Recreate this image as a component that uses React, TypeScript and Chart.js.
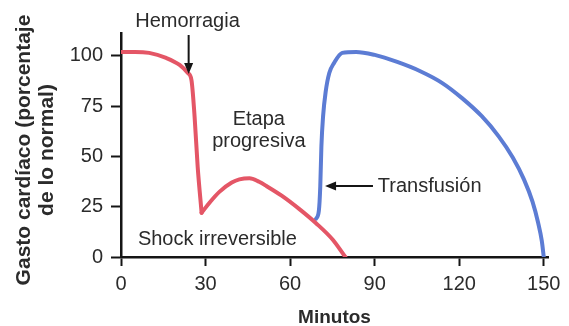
import { useEffect, useRef } from 'react';
import { Chart, registerables } from 'chart.js';

Chart.register(...registerables);

// ---- Data ----
const xTicks = [0, 30, 60, 90, 120, 150];
const yTicks = [0, 25, 50, 75, 100];

// Red curve, hemorrhage phase (normal -> sharp fall)
const redFallX = [0, 5, 10, 16, 20.8, 23.7, 25, 26.1, 27.2, 28.6];
const redFallY = [102, 102, 101.5, 99, 95.5, 91.5, 88, 70, 45, 22];
// Red curve, progressive stage -> irreversible shock
const redShockX = [28.6, 31.4, 35, 39.3, 42, 45.6, 49, 51.6, 57, 63.3, 69.2, 75, 79.6];
const redShockY = [22, 27, 32.5, 37, 38.6, 39.2, 37.4, 35.3, 30.5, 23.8, 16.8, 8.8, 0];
// Blue curve, transfusion
const blueX = [69.2, 70.2, 70.7, 71.1, 71.7, 72.6, 73.9, 75.6, 78.5, 83.4, 90, 98, 106, 114, 121, 128, 134, 139, 143, 146, 148, 149.3, 150];
const blueY = [19, 23, 35, 55, 70, 82, 91.5, 96.5, 101.5, 102, 100.5, 97, 92.5, 86.5, 79, 70, 60, 49.5, 38.5, 27.5, 17, 8, 0];

const yTitle = ['Gasto cardíaco (porcentaje', 'de lo normal)'];
const xTitle = 'Minutos';

const FONT = '"Liberation Sans", Arial, Helvetica, sans-serif';
const TEXT = '#2b2b2b';
const AXIS = '#151515';
const RED = 'rgb(228, 86, 102)';
const BLUE = 'rgb(92, 124, 212)';

const toPts = (xs: number[], ys: number[]) => xs.map((x, i) => ({ x, y: ys[i] }));

function arrowHead(ctx: CanvasRenderingContext2D, tx: number, ty: number, dx: number, dy: number, len: number, half: number) {
  const bx = tx - dx * len;
  const by = ty - dy * len;
  const px = -dy;
  const py = dx;
  ctx.beginPath();
  ctx.moveTo(tx, ty);
  ctx.lineTo(bx + px * half, by + py * half);
  ctx.lineTo(bx - px * half, by - py * half);
  ctx.closePath();
  ctx.fill();
}

const annotations = {
  id: 'annotations',
  afterDatasetsDraw(chart: any) {
    const { ctx, scales } = chart;
    const x = scales.x;
    const y = scales.y;
    const area = chart.chartArea;
    ctx.save();
    ctx.fillStyle = TEXT;
    ctx.strokeStyle = AXIS;
    ctx.font = `20px ${FONT}`;
    ctx.textBaseline = 'alphabetic';

    // Hemorragia
    ctx.textAlign = 'center';
    ctx.fillText('Hemorragia', x.getPixelForValue(23.6), y.getPixelForValue(114.5));
    const ax = x.getPixelForValue(24);
    const aTop = y.getPixelForValue(110.4);
    const aTip = y.getPixelForValue(91);
    ctx.lineWidth = 2;
    ctx.beginPath();
    ctx.moveTo(ax, aTop);
    ctx.lineTo(ax, aTip - 6);
    ctx.stroke();
    ctx.fillStyle = AXIS;
    arrowHead(ctx, ax, aTip, 0, 1, 11, 4.5);

    // Etapa progresiva
    ctx.fillStyle = TEXT;
    ctx.fillText('Etapa', x.getPixelForValue(48.9), y.getPixelForValue(65.7));
    ctx.fillText('progresiva', x.getPixelForValue(48.9), y.getPixelForValue(54.7));

    // Shock irreversible
    ctx.textAlign = 'left';
    ctx.fillText('Shock irreversible', x.getPixelForValue(6), y.getPixelForValue(6));

    // Transfusión
    ctx.fillText('Transfusión', x.getPixelForValue(91.1), y.getPixelForValue(32.3));
    const ty = y.getPixelForValue(35.3);
    const tStart = x.getPixelForValue(89.4);
    const tTip = x.getPixelForValue(72.4);
    ctx.beginPath();
    ctx.moveTo(tStart, ty);
    ctx.lineTo(tTip + 6, ty);
    ctx.stroke();
    ctx.fillStyle = AXIS;
    arrowHead(ctx, tTip, ty, -1, 0, 11, 4.5);

    // Axis titles
    ctx.fillStyle = TEXT;
    ctx.font = `bold 19px ${FONT}`;
    ctx.textAlign = 'center';
    ctx.fillText(xTitle, (area.left + area.right) / 2, 323);

    ctx.font = `bold 21px ${FONT}`;
    const cy = 150;
    ctx.save();
    ctx.translate(30, cy);
    ctx.rotate(-Math.PI / 2);
    ctx.fillText(yTitle[0], 0, 0);
    ctx.restore();
    ctx.save();
    ctx.translate(53, cy);
    ctx.rotate(-Math.PI / 2);
    ctx.fillText(yTitle[1], 0, 0);
    ctx.restore();

    ctx.restore();
  },
};

export default function App() {
  const ref = useRef<HTMLCanvasElement | null>(null);

  useEffect(() => {
    if (!ref.current) return;
    const lineStyle = {
      pointRadius: 0,
      borderWidth: 4,
      cubicInterpolationMode: 'monotone' as const,
      borderJoinStyle: 'round' as const,
      borderCapStyle: 'round' as const,
      fill: false,
    };
    const chart = new Chart(ref.current, {
      type: 'line',
      data: {
        datasets: [
          { ...lineStyle, label: 'Hemorragia', data: toPts(redFallX, redFallY), borderColor: RED },
          { ...lineStyle, label: 'Shock', data: toPts(redShockX, redShockY), borderColor: RED },
          { ...lineStyle, label: 'Transfusión', data: toPts(blueX, blueY), borderColor: BLUE },
        ],
      },
      options: {
        responsive: false,
        animation: false,
        devicePixelRatio: 1,
        layout: { padding: { top: 33, right: 21, left: 0, bottom: 0 } },
        plugins: { legend: { display: false }, tooltip: { enabled: false } },
        scales: {
          x: {
            type: 'linear',
            min: 0,
            max: 151.5,
            afterBuildTicks: (s: any) => {
              s.ticks = xTicks.map((v) => ({ value: v }));
            },
            afterFit: (s: any) => {
              s.height = 69;
            },
            grid: { drawOnChartArea: false, drawTicks: true, tickLength: 9, tickWidth: 2, tickColor: AXIS },
            border: { display: true, color: AXIS, width: 2.5 },
            ticks: { font: { size: 20, family: FONT }, color: TEXT, padding: 6, maxRotation: 0, autoSkip: false },
          },
          y: {
            type: 'linear',
            min: 0,
            max: 111.4,
            afterBuildTicks: (s: any) => {
              s.ticks = yTicks.map((v) => ({ value: v }));
            },
            afterFit: (s: any) => {
              s.width = 121;
            },
            grid: { drawOnChartArea: false, drawTicks: true, tickLength: 10, tickWidth: 2, tickColor: AXIS },
            border: { display: true, color: AXIS, width: 2.5 },
            ticks: { font: { size: 20, family: FONT }, color: TEXT, padding: 8, autoSkip: false },
          },
        },
      },
      plugins: [annotations],
    });
    return () => chart.destroy();
  }, []);

  return (
    <div style={{ position: 'absolute', left: 0, top: 0, width: 569, height: 326, background: '#fff' }}>
      <canvas ref={ref} width={569} height={326} style={{ display: 'block' }} />
    </div>
  );
}
